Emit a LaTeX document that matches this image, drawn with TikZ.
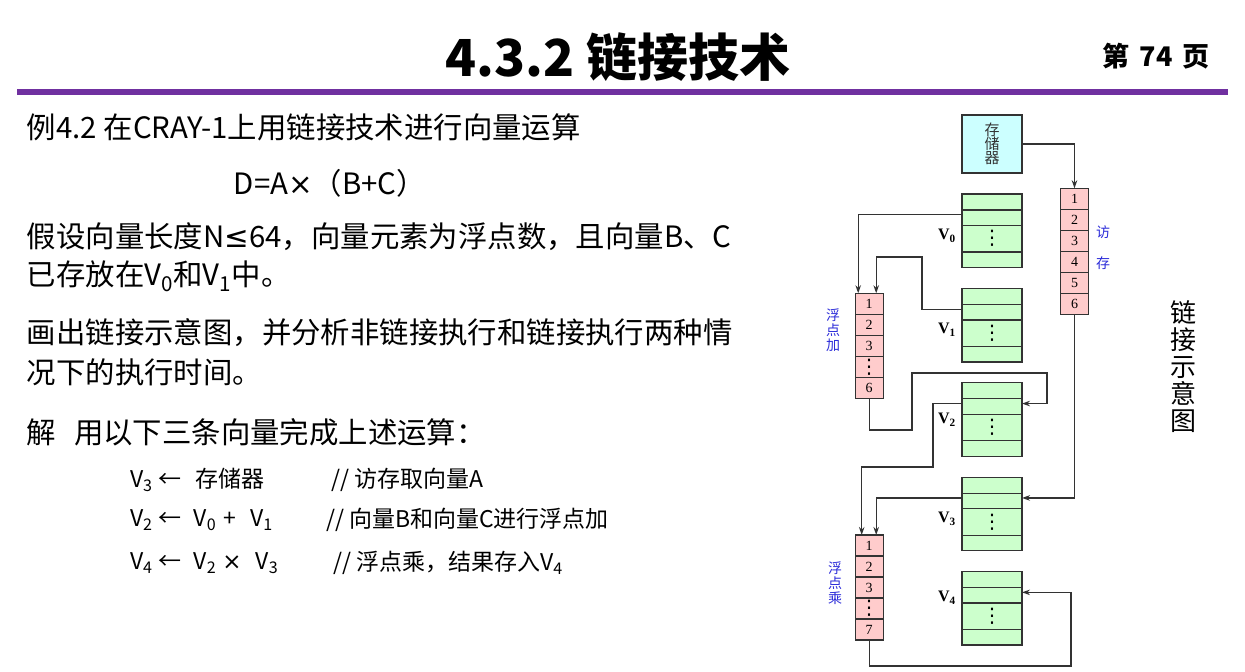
\documentclass[tikz,border=0pt]{standalone}
\usepackage{fontspec}
\setmainfont{Noto Sans CJK SC}
\newfontfamily\tms{Liberation Serif}
\newfontfamily\djv{DejaVu Sans}
\usetikzlibrary{positioning,arrows.meta}

\definecolor{regfill}{HTML}{CCFFCC}
\definecolor{cellfill}{HTML}{FFCCCC}
\definecolor{memfill}{HTML}{CCFFFF}
\definecolor{barpurple}{HTML}{7030A0}
\definecolor{unitblue}{HTML}{2B2BD9}
\definecolor{linegray}{HTML}{333333}

\newcommand\vd{{\djv\fontsize{20}{20}\selectfont ⋮}}
\newcommand\gap[1]{\hspace{#1pt}}

\begin{document}
\begin{tikzpicture}[x=1pt,y=-1pt,
	every node/.style={inner sep=0pt,outer sep=0pt},
	linkline/.style={draw=linegray,line width=1.3pt},
	linkarrow/.style={linkline,-{Stealth[length=8pt,width=5.5pt]}},
	regrow/.style={linkline,fill=regfill,minimum width=60pt},
	pipecell/.style={linkline,fill=cellfill,minimum width=28pt,minimum height=21pt,font=\tms\fontsize{14}{14}\selectfont},
	bodytext/.style={anchor=west,font=\fontsize{29.4}{29.4}\selectfont},
	cmdtext/.style={anchor=west,font=\fontsize{23}{23}\selectfont},
	unitlabel/.style={text=unitblue,align=center,font=\fontsize{14}{15}\selectfont}]
	\path[use as bounding box,fill=white] (0,0) rectangle (1245,672);

	% heading
	\node[font=\bfseries\fontsize{51}{51}\selectfont] (title) at (618,57) {4.3.2 链接技术};
	\node[font=\bfseries\fontsize{27}{27}\selectfont] (page) at (1156,56) {第\gap{10}74\gap{10}页};
	\fill[barpurple] (17,89) rectangle (1228,95);

	% text
	\node[bodytext] (ex) at (27,127) {例4.2 在CRAY-1上用链接技术进行向量运算};
	\node[bodytext,anchor=center] (eq) at (330,183) {D=A{\djv ×}（B+C）};
	\node[bodytext] (cond) at (27,237) {假设向量长度N{\djv ≤}64，向量元素为浮点数，且向量B、C};
	\node[bodytext] (cond2) at (27,276) {已存放在V\textsubscript{0}和V\textsubscript{1}中。};
	\node[bodytext] (task) at (27,333) {画出链接示意图，并分析非链接执行和链接执行两种情};
	\node[bodytext] (task2) at (27,372) {况下的执行时间。};
	\node[bodytext] (sol) at (27,432) {解\hspace{0.6em}用以下三条向量完成上述运算：};
	\node[cmdtext] (c1) at (130,480) {V\textsubscript{3}\gap{6}←\gap{14}存储器};
	\node[cmdtext] (n1) at (331,480) {// 访存取向量A};
	\node[cmdtext] (c2) at (130,520) {V\textsubscript{2}\gap{6}←\gap{12}V\textsubscript{0}\gap{7}+\gap{14}V\textsubscript{1}};
	\node[cmdtext] (n2) at (326,520) {// 向量B和向量C进行浮点加};
	\node[cmdtext] (c3) at (130,563) {V\textsubscript{4}\gap{6}←\gap{12}V\textsubscript{2}\gap{6}{\djv ×}\gap{14}V\textsubscript{3}};
	\node[cmdtext] (n3) at (333,563) {// 浮点乘，结果存入V\textsubscript{4}};

	% vector registers
	\foreach \i in {0,...,4} {
		\node[regrow,minimum height=16pt,anchor=north] (v\i-a) at (992,194+94.4*\i) {};
		\node[regrow,minimum height=15.5pt,below=0pt of v\i-a] (v\i-b) {};
		\node[regrow,minimum height=26.5pt,below=0pt of v\i-b] (v\i-c) {\vd};
		\node[regrow,minimum height=15.5pt,below=0pt of v\i-c] (v\i-d) {};
		\coordinate (v\i p) at ([yshift=3pt]v\i-b.west);
		\coordinate (v\i q) at ([yshift=3pt]v\i-b.east);
	}
	\foreach \i/\ly in {0/236,1/330,2/420,3/519,4/598}
		\node[font=\tms\bfseries\fontsize{16}{16}\selectfont] (lv\i) at (947,\ly) {V\textsubscript{\i}};

	% memory and pipelines
	\node[linkline,fill=memfill,minimum width=60pt,minimum height=58pt,align=center,text=black!80,font=\fontsize{15}{14}\selectfont] (mem) at (992,144) {存\\储\\器};
	\foreach \k in {1,...,6}
		\node[pipecell] (ms\k) at (1074.5,177.8+21*\k) {\k};
	\foreach \t [count=\k] in {1,2,3,\vd,6}
		\node[pipecell] (add\k) at (869.2,282.8+21*\k) {\t};
	\foreach \t [count=\k] in {1,2,3,\vd,7}
		\node[pipecell] (mul\k) at (869.2,524.5+21*\k) {\t};

	\node[unitlabel] (ma1) at (1103,232) {访};
	\node[unitlabel] (ma2) at (1103,263) {存};
	\node[unitlabel] (fa) at (833,330) {浮\\点\\加};
	\node[unitlabel] (fm) at (835,583) {浮\\点\\乘};
	\node[align=center,font=\fontsize{26}{27}\selectfont] (cap) at (1183,367) {链\\接\\示\\意\\图};

	% chaining
	\draw[linkarrow] (mem.east) -| (ms1.north);
	\draw[linkarrow] (v0p) -| ([xshift=-11pt]add1.north);
	\draw[linkarrow] (v1p) -| (922,257) -| ([xshift=7pt]add1.north);
	\draw[linkarrow] (add5.south) |- (912,430) |- (1047,373) |- (v2q);
	\draw[linkarrow] (v2p) -| (933,467) -| ([xshift=-7.5pt]mul1.north);
	\draw[linkarrow] (ms6.south) |- (v3q);
	\draw[linkarrow] (v3p) -| ([xshift=7pt]mul1.north);
	\draw[linkarrow] (mul5.south) |- (1071,666) |- (v4q);
\end{tikzpicture}
\end{document}
